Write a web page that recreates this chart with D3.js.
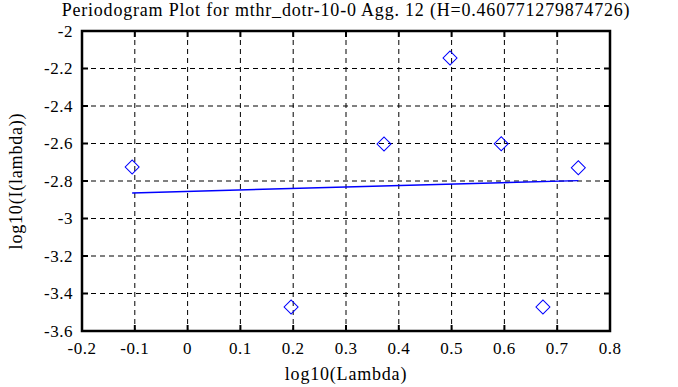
<!DOCTYPE html>
<html>
<head>
<meta charset="utf-8">
<script src="https://cdn.jsdelivr.net/npm/d3@7"></script>
<style>
    body { margin: 0; background: #fff; }
    svg { display: block; font-family: "Liberation Serif", "DejaVu Serif", serif; }
    .grid line { stroke: #000; stroke-dasharray: 5,4; stroke-width: 1; }
    .tick-label { font-size: 17px; fill: #000; letter-spacing: 0.5px; }
    .label { font-size: 18px; fill: #000; letter-spacing: 0.8px; }
</style>
</head>
<body>
<div id="chart"></div>
<script>
const TITLE = "Periodogram Plot for mthr_dotr-10-0 Agg. 12 (H=0.460771279874726)";
const X_LABEL = "log10(Lambda)";
const Y_LABEL = "log10(I(lambda))";

// periodogram points
const logLambda = [-0.105, 0.196, 0.372, 0.497, 0.594, 0.673, 0.740];
const logI = [-2.725, -3.472, -2.603, -2.144, -2.601, -3.472, -2.729];

// fitted line end points
const fitX = [-0.105, 0.740];
const fitY = [-2.864, -2.798];

const xTicks = [-0.2, -0.1, 0, 0.1, 0.2, 0.3, 0.4, 0.5, 0.6, 0.7, 0.8];
const yTicks = [-2, -2.2, -2.4, -2.6, -2.8, -3, -3.2, -3.4, -3.6];

const WIDTH = 678;
const HEIGHT = 387;
const margin = {left: 82, right: 68, top: 31, bottom: 56};
const TICK_LEN = 6;
const MARKER = 7;

const svg = d3.select("#chart")
    .append("svg")
    .attr("width", WIDTH)
    .attr("height", HEIGHT);

const x = d3.scaleLinear().domain([-0.2, 0.8]).range([margin.left, WIDTH - margin.right]);
const y = d3.scaleLinear().domain([-3.6, -2]).range([HEIGHT - margin.bottom, margin.top]);

const x0 = x.range()[0], x1 = x.range()[1];
const y0 = y.range()[0], y1 = y.range()[1];

// grid
const grid = svg.append("g").attr("class", "grid");
grid.selectAll(".gx")
    .data(xTicks.slice(1, -1))
    .join("line")
    .attr("x1", d => x(d)).attr("x2", d => x(d))
    .attr("y1", y1).attr("y2", y0);
grid.selectAll(".gy")
    .data(yTicks.slice(1, -1))
    .join("line")
    .attr("x1", x0).attr("x2", x1)
    .attr("y1", d => y(d)).attr("y2", d => y(d));

// inward ticks on all four sides
const ticks = svg.append("g").attr("stroke", "#000").attr("stroke-width", 2);
xTicks.forEach(d => {
    ticks.append("line").attr("x1", x(d)).attr("x2", x(d)).attr("y1", y0).attr("y2", y0 - TICK_LEN);
    ticks.append("line").attr("x1", x(d)).attr("x2", x(d)).attr("y1", y1).attr("y2", y1 + TICK_LEN);
});
yTicks.forEach(d => {
    ticks.append("line").attr("x1", x0).attr("x2", x0 + TICK_LEN).attr("y1", y(d)).attr("y2", y(d));
    ticks.append("line").attr("x1", x1).attr("x2", x1 - TICK_LEN).attr("y1", y(d)).attr("y2", y(d));
});

// frame
svg.append("rect")
    .attr("x", x0).attr("y", y1)
    .attr("width", x1 - x0).attr("height", y0 - y1)
    .attr("fill", "none").attr("stroke", "#000").attr("stroke-width", 2.5);

// tick labels
svg.selectAll(".xl")
    .data(xTicks)
    .join("text")
    .attr("class", "tick-label")
    .attr("x", d => x(d))
    .attr("y", y0 + 23)
    .attr("text-anchor", "middle")
    .text(d => String(d));

svg.selectAll(".yl")
    .data(yTicks)
    .join("text")
    .attr("class", "tick-label")
    .attr("x", x0 - 9)
    .attr("y", d => y(d))
    .attr("dy", "0.35em")
    .attr("text-anchor", "end")
    .text(d => String(d));

// fitted line
svg.append("line")
    .attr("x1", x(fitX[0])).attr("y1", y(fitY[0]))
    .attr("x2", x(fitX[1])).attr("y2", y(fitY[1]))
    .attr("stroke", "#0000ff").attr("stroke-width", 1.5);

// diamond markers
const diamond = d3.symbol().type(d3.symbolSquare).size(2 * MARKER * MARKER);
svg.selectAll(".pt")
    .data(logLambda.map((v, i) => ({x: v, y: logI[i]})))
    .join("path")
    .attr("d", diamond)
    .attr("transform", d => `translate(${x(d.x)},${y(d.y)}) rotate(45)`)
    .attr("fill", "none")
    .attr("stroke", "#0000ff")
    .attr("stroke-width", 1);

// titles
svg.append("text")
    .attr("class", "label")
    .attr("x", (x0 + x1) / 2).attr("y", 16)
    .attr("text-anchor", "middle")
    .text(TITLE);

svg.append("text")
    .attr("class", "label")
    .attr("x", (x0 + x1) / 2).attr("y", 380)
    .attr("text-anchor", "middle")
    .text(X_LABEL);

svg.append("text")
    .attr("class", "label")
    .attr("transform", `translate(22,${(y0 + y1) / 2}) rotate(-90)`)
    .attr("text-anchor", "middle")
    .text(Y_LABEL);
</script>
</body>
</html>
